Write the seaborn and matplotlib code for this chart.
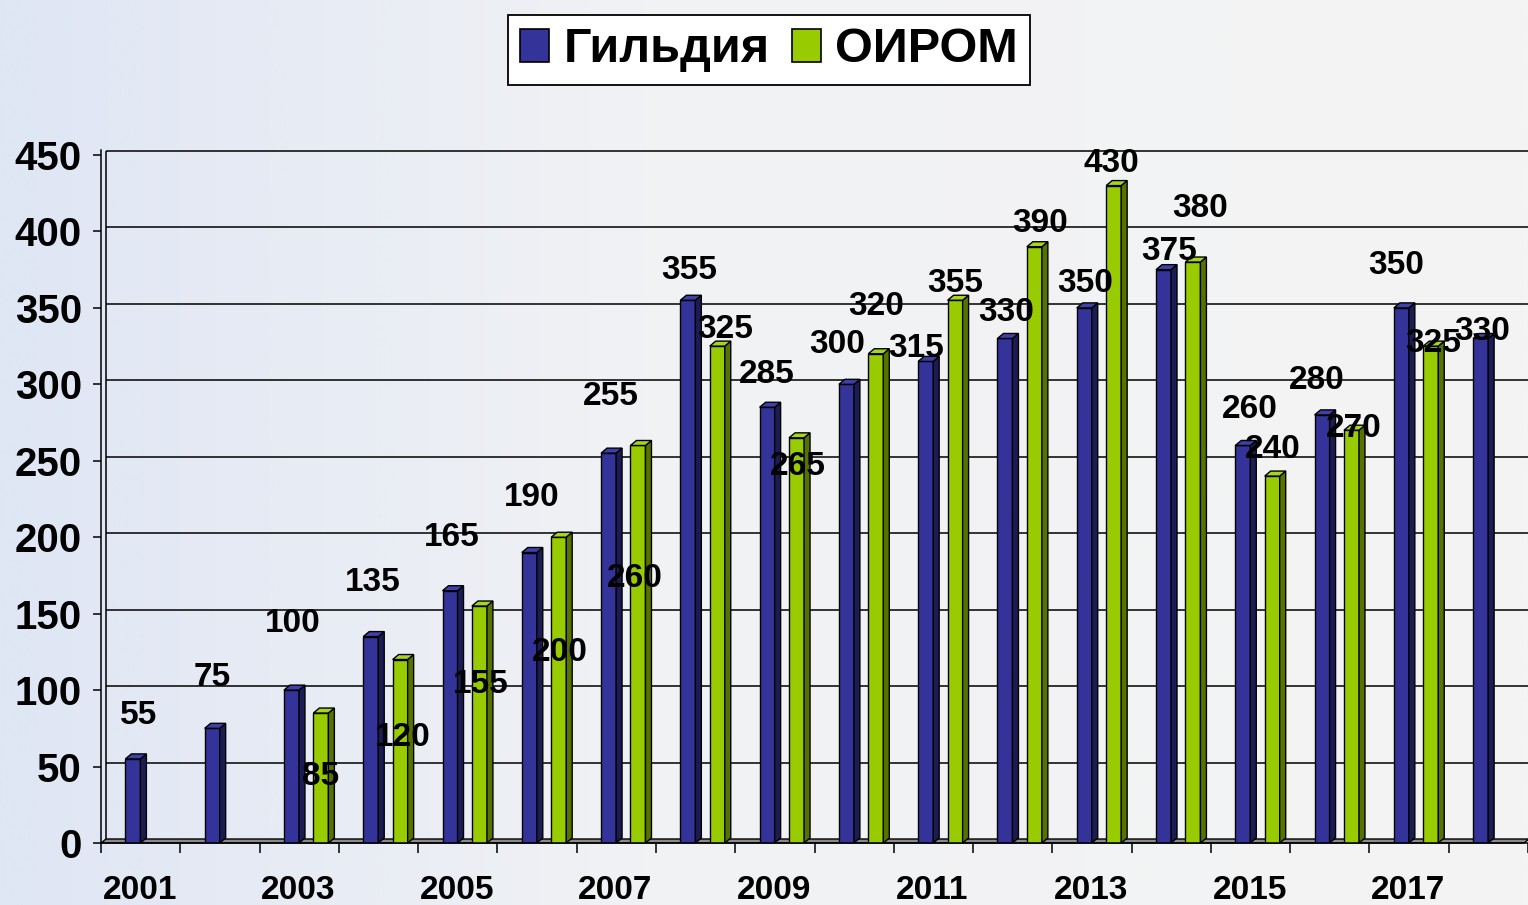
import numpy as np
import pandas as pd
import seaborn as sns
import matplotlib
matplotlib.use('Agg')
import matplotlib.pyplot as plt
from matplotlib.colors import LinearSegmentedColormap
from matplotlib.patches import Patch, Polygon
from matplotlib.transforms import ScaledTranslation

# Data
years = list(range(2001, 2019))
gildiya = [55, 75, 100, 135, 165, 190, 255, 355, 285, 300, 315, 330, 350, 375, 260, 280, 350, 330]
oirom = [np.nan, np.nan, 85, 120, 155, 200, 260, 325, 265, 320, 355, 390, 430, 380, 240, 270, 325, np.nan]
series_names = ['Гильдия', 'ОИРОМ']
y_ticks = [0, 50, 100, 150, 200, 250, 300, 350, 400, 450]

# Label nudges (pixels) as they sit in the original chart
gildiya_label_dx = [6, 0, 1, 2, 2, 2, 2, 1, 0, -9, -10, 1, 1, 6, 7, -5, -5, 2]
gildiya_label_dy = [43, 51, 67, 54, 53, 55, 57, 30, 33, 40, 13, 26, 24, 18, 36, 34, 42, 7]
oirom_label_dx = [0, 0, 0, 3, 1, 1, -3, 8, 1, 0, 0, 6, -2, 7, 1, 2, 2, 0]
oirom_label_dy = [0, 0, -63, -78, -78, -115, -133, 17, -29, 47, 17, 23, 22, 54, 27, 2, 3, 0]

blue = '#333399'
green = '#99cc00'
side_colors = {blue: '#1c1c55', green: '#567300'}
top_colors = {blue: '#4040aa', green: '#a8d41a'}


def build_frame():
    rows = []
    for y, g, o in zip(years, gildiya, oirom):
        rows.append({'year': str(y), 'series': series_names[0], 'value': g})
        if not np.isnan(o):
            rows.append({'year': str(y), 'series': series_names[1], 'value': o})
    return pd.DataFrame(rows)


sns.set_style('white')
plt.rcParams['font.family'] = ['Liberation Sans', 'DejaVu Sans']
plt.rcParams['font.weight'] = 'bold'
for key in ['text.color', 'axes.labelcolor', 'xtick.color', 'ytick.color']:
    plt.rcParams[key] = 'black'

W, H = 1528, 905
fig = plt.figure(figsize=(W / 100, H / 100), dpi=100)

# gradient background over the whole picture
bg = fig.add_axes([0, 0, 1, 1], zorder=-10)
cmap = LinearSegmentedColormap.from_list('bg', [(0, '#dfe6f4'), (0.42, '#f1f2f4'), (1, '#f4f4f4')])
bg.imshow(np.linspace(0, 1, 512)[None, :], aspect='auto', cmap=cmap, extent=[0, 1, 0, 1])
bg.set_axis_off()

px_per_unit = (843 - 155) / 450
y_top = 453
x_left = -0.588
cat_px = 79.5
x_right = x_left + (W - 101) / cat_px
ax = fig.add_axes([101 / W, (H - 843) / H, (W - 101) / W, y_top * px_per_unit / H])
ax.set_facecolor('none')

df = build_frame()
sns.barplot(data=df, x='year', y='value', hue='series', order=[str(y) for y in years],
            hue_order=series_names, palette=[blue, green], saturation=1, width=0.742, gap=0.49,
            edgecolor='black', linewidth=1.0, errorbar=None, legend=False, ax=ax, zorder=3)

ax.set_xlim(x_left, x_right)
ax.set_ylim(0, y_top)

# back wall grid lines, shifted up/right like a 3D chart
back = ax.transData + ScaledTranslation(5 / 100, 4 / 100, fig.dpi_scale_trans)
ax.hlines(y_ticks[1:], x_left, x_right, colors='black', linewidth=1.1, transform=back, zorder=1)
ax.vlines([x_left], 0, 450, colors='black', linewidth=1.1, transform=back, zorder=1)

# floor
fdx, fdy = 5 / cat_px, 4 / px_per_unit
ax.add_patch(Polygon([(x_left, 0), (x_right, 0), (x_right + fdx, fdy), (x_left + fdx, fdy)],
                     closed=True, facecolor='#8a8a8a', edgecolor='black', linewidth=1.0, zorder=2,
                     clip_on=False))

# 3D sides and tops of the bars
bdx, bdy = 6 / cat_px, 5 / px_per_unit
for container in ax.containers:
    for bar in container:
        x, w, h = bar.get_x(), bar.get_width(), bar.get_height()
        if not h > 0:
            continue
        fc = matplotlib.colors.to_hex(bar.get_facecolor())
        side = Polygon([(x + w, 0), (x + w + bdx, bdy), (x + w + bdx, h + bdy), (x + w, h)],
                       closed=True, facecolor=side_colors.get(fc, fc), edgecolor='black',
                       linewidth=1.0, zorder=3)
        top = Polygon([(x, h), (x + bdx, h + bdy), (x + w + bdx, h + bdy), (x + w, h)],
                      closed=True, facecolor=top_colors.get(fc, fc), edgecolor='black',
                      linewidth=1.0, zorder=3)
        ax.add_patch(side)
        ax.add_patch(top)

# value labels
offsets = {series_names[0]: (gildiya_label_dx, gildiya_label_dy),
           series_names[1]: (oirom_label_dx, oirom_label_dy)}
for container, name in zip(ax.containers, series_names):
    dxs, dys = offsets[name]
    for bar, val in zip(container, container.datavalues):
        if np.isnan(val):
            continue
        cx = bar.get_x() + bar.get_width() / 2
        idx = int(round(cx))
        ax.annotate(f'{int(val)}', xy=(cx, val), xytext=(dxs[idx], dys[idx]),
                    textcoords='offset pixels', ha='center', va='center',
                    fontsize=24, fontweight='bold', color='black', zorder=6)

# axes, ticks
ax.set_yticks(y_ticks)
ax.set_yticklabels([str(v) for v in y_ticks], fontsize=29, fontweight='bold')
ax.set_xticks([i - 0.1 for i in range(0, len(years), 2)])
ax.set_xticklabels([str(y) for y in years[::2]], fontsize=24, fontweight='bold')
ax.set_xticks([i + x_left for i in range(len(years) + 1)], minor=True)
ax.tick_params(axis='x', which='major', bottom=True, length=0, pad=23)
ax.tick_params(axis='x', which='minor', bottom=True, length=7.2, width=1.1, color='black',
               direction='out')
ax.tick_params(axis='y', left=True, length=5.8, width=1.1, color='black', direction='out', pad=8)
ax.set_xlabel('')
ax.set_ylabel('')
for s in ['top', 'right']:
    ax.spines[s].set_visible(False)
for s in ['left', 'bottom']:
    ax.spines[s].set_color('black')
    ax.spines[s].set_linewidth(1.1)
    ax.spines[s].set_zorder(4)

# legend
handles = [Patch(facecolor=blue, edgecolor='black', linewidth=1.2),
           Patch(facecolor=green, edgecolor='black', linewidth=1.2)]
leg = fig.legend(handles, series_names, loc='center', bbox_to_anchor=(769 / W, 1 - 50 / H),
                 ncol=2, frameon=True, fancybox=False, edgecolor='black', facecolor='white',
                 prop={'size': 35, 'weight': 'bold'}, handlelength=0.6, handleheight=0.66,
                 handletextpad=0.3, columnspacing=0.45, borderpad=0.25)
leg.get_frame().set_linewidth(1.3)
leg.get_frame().set_alpha(1)

fig.savefig('out.png', dpi=100)
